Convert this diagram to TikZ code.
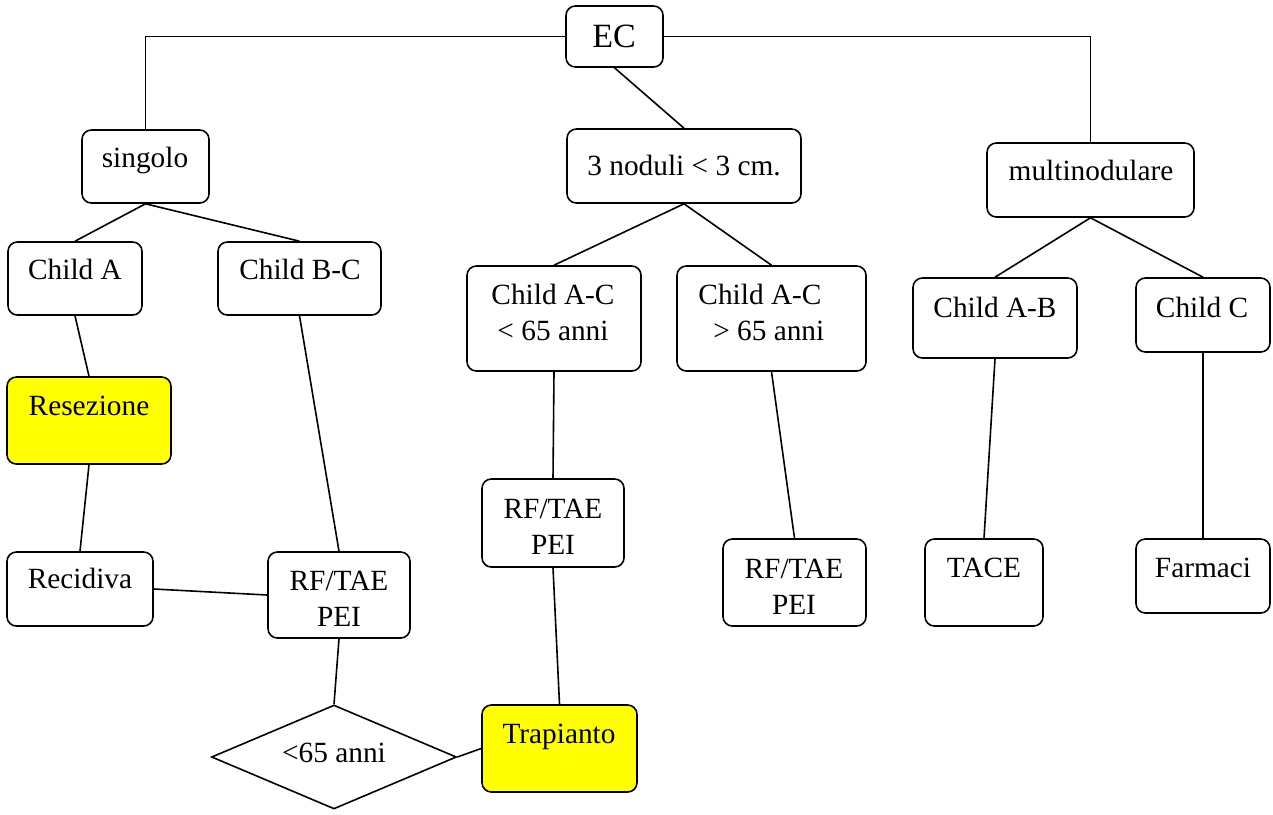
\documentclass[tikz,border=0pt]{standalone}
\usepackage{fontspec}
\setmainfont{Liberation Serif}
\usetikzlibrary{fit,shapes.geometric}
\definecolor{hotyellow}{RGB}{255,255,0}
\tikzset{
  box/.style={draw, line width=1.2pt, rounded corners=7pt, inner sep=0pt, fill=white},
  hot/.style={box, fill=hotyellow},
  lbl/.style={anchor=base, inner sep=0pt, font=\fontsize{22}{27}\selectfont},
  big/.style={anchor=base, inner sep=0pt, font=\fontsize{25.5}{30}\selectfont},
  link/.style={line width=1.2pt},
}
\newcommand\twolines[2]{\begin{tabular}[t]{@{}c@{}}#1\\#2\end{tabular}}
\begin{document}
\begin{tikzpicture}[x=0.75pt,y=-0.75pt]
\useasboundingbox (0,0) rectangle (1273,814);
% boxes
\node[box, fit={(566,6)(663,67)}] (ec) {};
\node[box, fit={(567,129)(801,203)}] (nod) {};
\node[box, fit={(82,130)(209,203)}] (sing) {};
\node[box, fit={(987,143)(1194,217)}] (multi) {};
\node[box, fit={(8,242)(142,315)}] (ca) {};
\node[box, fit={(218,242)(381,315)}] (cbc) {};
\node[box, fit={(467,266)(641,371)}] (cacy) {};
\node[box, fit={(677,266)(866,371)}] (caco) {};
\node[box, fit={(913,278)(1077,358)}] (cab) {};
\node[box, fit={(1136,278)(1270,352)}] (cc) {};
\node[hot, fit={(7,377)(171,464)}] (res) {};
\node[box, fit={(482,479)(624,567)}] (rfm) {};
\node[box, fit={(7,552)(153,626)}] (rec) {};
\node[box, fit={(268,552)(410,638)}] (rfl) {};
\node[box, fit={(723,539)(866,626)}] (rfr) {};
\node[box, fit={(925,539)(1043,626)}] (tace) {};
\node[box, fit={(1136,539)(1270,613)}] (farm) {};
\node[hot, fit={(482,705)(637,792)}] (trap) {};
\node[draw, line width=1.2pt, diamond, inner sep=0pt, aspect=2.35,
      minimum width=245*0.75pt, minimum height=104*0.75pt] (dia) at (334,757) {};
% labels
\node[big] (tec) at (614,47) {EC};
\node[lbl] (tnod) at (684,175) {3 noduli < 3 cm.};
\node[lbl] (tsing) at (145,167) {singolo};
\node[lbl] (tmulti) at (1091,180) {multinodulare};
\node[lbl] (tca) at (75,279) {Child A};
\node[lbl] (tcbc) at (300,279) {Child B-C};
\node[lbl] (tcacy) at (553,304) {\twolines{Child A-C}{< 65 anni}};
\node[lbl] (tcaco) at (760,304) {\twolines{Child A-C}{\hspace{0.6em}> 65 anni}};
\node[lbl] (tcab) at (995,317) {Child A-B};
\node[lbl] (tcc) at (1202,317) {Child C};
\node[lbl] (tres) at (89,415) {Resezione};
\node[lbl] (trfm) at (553,518) {\twolines{RF/TAE}{PEI}};
\node[lbl] (trec) at (80,588) {Recidiva};
\node[lbl] (trfl) at (339,590) {\twolines{RF/TAE}{PEI}};
\node[lbl] (trfr) at (794,578) {\twolines{RF/TAE}{PEI}};
\node[lbl] (ttace) at (984,577) {TACE};
\node[lbl] (tfarm) at (1203,577) {Farmaci};
\node[lbl] (ttrap) at (559,743) {Trapianto};
\node[lbl] (tdia) at (334,762) {<65 anni};
% connectors
\draw[link] (ec.west) -| (sing.north);
\draw[link] (ec.east) -| (multi.north);
\draw[link] (ec.south) -- (nod.north);
\draw[link] (sing.south) -- (ca.north);
\draw[link] (sing.south) -- (cbc.north);
\draw[link] (nod.south) -- (cacy.north);
\draw[link] (nod.south) -- (caco.north);
\draw[link] (multi.south) -- (cab.north);
\draw[link] (multi.south) -- (cc.north);
\draw[link] (ca.south) -- (res.north);
\draw[link] (res.south) -- (rec.north);
\draw[link] (cbc.south) -- (rfl.north);
\draw[link] (rec.east) -- (rfl.west);
\draw[link] (rfl.south) -- (dia.north);
\draw[link] (dia.east) -- (trap.west);
\draw[link] (cacy.south) -- (rfm.north);
\draw[link] (rfm.south) -- (trap.north);
\draw[link] (caco.south) -- (rfr.north);
\draw[link] (cab.south) -- (tace.north);
\draw[link] (cc.south) -- (farm.north);
\end{tikzpicture}
\end{document}
